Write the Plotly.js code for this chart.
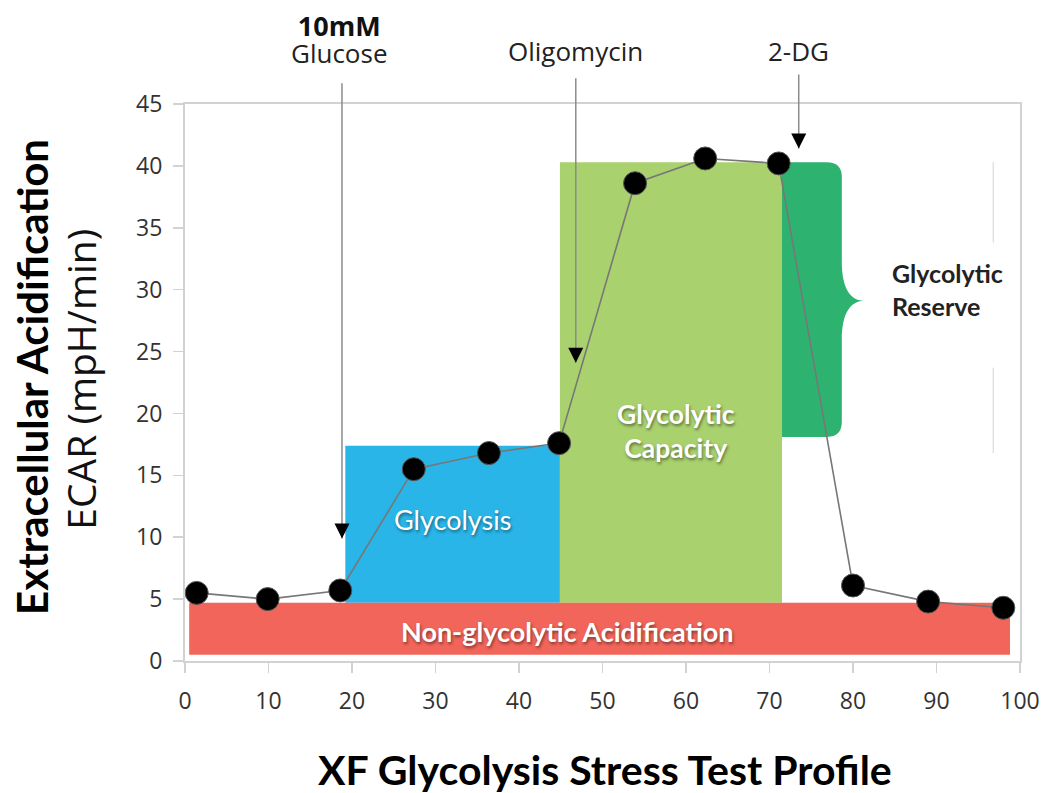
<!DOCTYPE html>
<html><head><meta charset="utf-8">
<script src="https://cdn.plot.ly/plotly-3.0.1.min.js"></script>
<style>html,body{margin:0;padding:0;background:#fff}</style>
</head><body><div id="chart" style="width:1047px;height:793px"></div>
<script>
// ---- data ----
const timeMin = [1.4, 9.9, 18.6, 27.4, 36.4, 44.8, 53.9, 62.3, 71.1, 80.0, 89.0, 98.0];
const ecar    = [5.5, 5.0, 5.7, 15.5, 16.8, 17.6, 38.6, 40.6, 40.2, 6.1, 4.8, 4.3];
const xTicks = [0, 10, 20, 30, 40, 50, 60, 70, 80, 90, 100];
const yTicks = [0, 5, 10, 15, 20, 25, 30, 35, 40, 45];

const regionNames = ['Non-glycolytic Acidification', 'Glycolysis', 'Glycolytic Capacity'];
const regionX0 = [0.5, 19.2, 44.9];
const regionX1 = [98.8, 44.9, 71.5];
const regionY0 = [0.5, 4.7, 4.7];
const regionY1 = [4.7, 17.4, 40.3];
const regionLabelX = [45.8, 32.0, 58.8];
const regionLabelY = [2.4, 11.4, 18.6];

const reserveName = 'Glycolytic<br>Reserve';
const reserveX = [71.5, 78.66, 81.4];    // left edge, right edge, brace tip
const reserveY = [18.1, 29.1, 40.3];     // bottom, brace tip, top
const reserveLabel = [84.4, 30.0];

const injectionBold = ['10mM', '', ''];
const injectionNames = ['Glucose', 'Oligomycin', '2-DG'];
const injectionX   = [18.8, 46.8, 73.5];
const injectionTip = [9.9, 24.1, 41.4];
const injectionTop = [46.8, 47.2, 47.5];

const guideX = 96.8;
const guideSegments = [[33.8, 40.3], [16.8, 23.7]];

// ---- styling ----
const regionColors = ['#F1655A', '#29B5E8', '#A9D16E'];
const reserveColor = '#2DB36F';
const sans = '"Open Sans", "DejaVu Sans", sans-serif';
const calib = 'Lato, "Open Sans", sans-serif';

const shapes = [];
[1, 2, 0].forEach(i => {
  shapes.push({type: 'rect', xref: 'x', yref: 'y', x0: regionX0[i], x1: regionX1[i],
    y0: regionY0[i], y1: regionY1[i], fillcolor: regionColors[i], line: {width: 0}, layer: 'below'});
});
(function () {
  const [xl, xe, xt] = reserveX;
  const [yb, ym, yt] = reserveY;
  const rx = 1.8, ry = 1.2;
  const p = `M ${xl},${yb} L ${xl},${yt} L ${xe - rx},${yt} Q ${xe},${yt} ${xe},${yt - ry} ` +
    `L ${xe},${ym + 3.2} C ${xe},${ym + 0.9} ${xe + 1.1},${ym} ${xt},${ym} ` +
    `C ${xe + 1.1},${ym} ${xe},${ym - 0.9} ${xe},${ym - 3.2} ` +
    `L ${xe},${yb + ry} Q ${xe},${yb} ${xe - rx},${yb} Z`;
  shapes.push({type: 'path', xref: 'x', yref: 'y', path: p, fillcolor: reserveColor,
    line: {width: 0}, layer: 'below'});
})();
guideSegments.forEach(s => {
  shapes.push({type: 'line', xref: 'x', yref: 'y', x0: guideX, x1: guideX, y0: s[0], y1: s[1],
    line: {color: '#e2e2e2', width: 1.5}, layer: 'below'});
});

const annotations = [];
const shadow = '1px 2px 3px rgba(0,0,0,0.45)';
const regionFonts = [
  {family: calib, size: 27, color: '#ffffff', weight: 700, shadow: shadow},
  {family: calib, size: 27, color: '#ffffff', shadow: shadow},
  {family: calib, size: 26.5, color: '#ffffff', weight: 700, shadow: shadow}
];
regionNames.forEach((n, i) => {
  const txt = i === 2 ? n.replace(' ', '<br>') : n;
  annotations.push({x: regionLabelX[i], y: regionLabelY[i], xref: 'x', yref: 'y', text: txt,
    showarrow: false, align: 'center', font: regionFonts[i]});
});
annotations.push({x: reserveLabel[0], y: reserveLabel[1], xref: 'x', yref: 'y', text: reserveName,
  showarrow: false, xanchor: 'left', align: 'left',
  font: {family: calib, size: 25, color: '#222222', weight: 700}});

injectionNames.forEach((n, i) => {
  annotations.push({x: injectionX[i], y: injectionTip[i], xref: 'x', yref: 'y',
    ax: injectionX[i], ay: injectionTop[i], axref: 'x', ayref: 'y', text: '',
    showarrow: true, arrowhead: 0, arrowwidth: 1.5, arrowcolor: '#8c8c8c', standoff: 0, startstandoff: 0});
  annotations.push({x: injectionX[i], y: injectionTip[i], xref: 'x', yref: 'y',
    ax: 0, ay: -12, text: '', showarrow: true, arrowhead: 2, arrowsize: 2, arrowwidth: 1.5,
    arrowcolor: '#000000', standoff: 0});
  if (injectionBold[i]) {
    // two-line label with tight line spacing (spacing follows the base font size)
    annotations.push({x: injectionX[i], y: 1, xref: 'x', yref: 'paper', yanchor: 'middle', yshift: 65,
      xshift: -2, align: 'center', showarrow: false,
      text: '<span style="font-size:27px;color:#111111"><b>' + injectionBold[i] + '</b></span><br>' +
            '<span style="font-size:26px">' + n + '</span>',
      font: {family: sans, size: 21, color: '#222222'}});
  } else {
    annotations.push({x: injectionX[i], y: 1, xref: 'x', yref: 'paper', yanchor: 'middle', yshift: 53,
      text: n, showarrow: false, font: {family: sans, size: 26, color: '#222222'}});
  }
});

// axis titles
annotations.push({x: 0, y: 0.51, xref: 'paper', yref: 'paper', xshift: -153, textangle: -90,
  text: '<b>Extracellular Acidification</b>', showarrow: false, xanchor: 'center', yanchor: 'middle',
  font: {family: calib, size: 42, color: '#000000'}});
annotations.push({x: 0, y: 0.505, xref: 'paper', yref: 'paper', xshift: -104, textangle: -90,
  text: 'ECAR (mpH/min)', showarrow: false, xanchor: 'center', yanchor: 'middle',
  font: {family: sans, size: 39, color: '#111111'}});
annotations.push({x: 0.5, y: 0, xref: 'paper', yref: 'paper', yshift: -108, xshift: 2,
  text: '<b>XF Glycolysis Stress Test Profile</b>', showarrow: false, yanchor: 'middle',
  font: {family: calib, size: 41, color: '#000000'}});

const traces = [{
  x: timeMin, y: ecar, type: 'scatter', mode: 'lines+markers',
  line: {color: '#777777', width: 1.6},
  marker: {size: 23, color: '#000000', line: {color: '#555555', width: 1}},
  cliponaxis: false, hoverinfo: 'skip'
}];

const axisCommon = {
  showgrid: false, zeroline: false, showline: true, mirror: true,
  linecolor: '#d2d2d2', linewidth: 2, ticks: 'outside', ticklen: 10, tickwidth: 1.5,
  tickcolor: '#d2d2d2', tickfont: {family: sans, size: 23, color: '#333333'}
};

const layout = {
  width: 1047, height: 793,
  margin: {l: 185, r: 27, t: 104, b: 132, pad: 0},
  paper_bgcolor: '#ffffff', plot_bgcolor: '#ffffff',
  showlegend: false,
  xaxis: Object.assign({}, axisCommon, {range: [0, 100], tickvals: xTicks, ticktext: xTicks.map(String), ticklabelstandoff: 8}),
  yaxis: Object.assign({}, axisCommon, {range: [0, 45], tickvals: yTicks, ticktext: yTicks.map(String), ticklabelstandoff: 6}),
  shapes: shapes,
  annotations: annotations
};

Plotly.newPlot('chart', traces, layout, {staticPlot: true, displayModeBar: false});
</script>
</body></html>
